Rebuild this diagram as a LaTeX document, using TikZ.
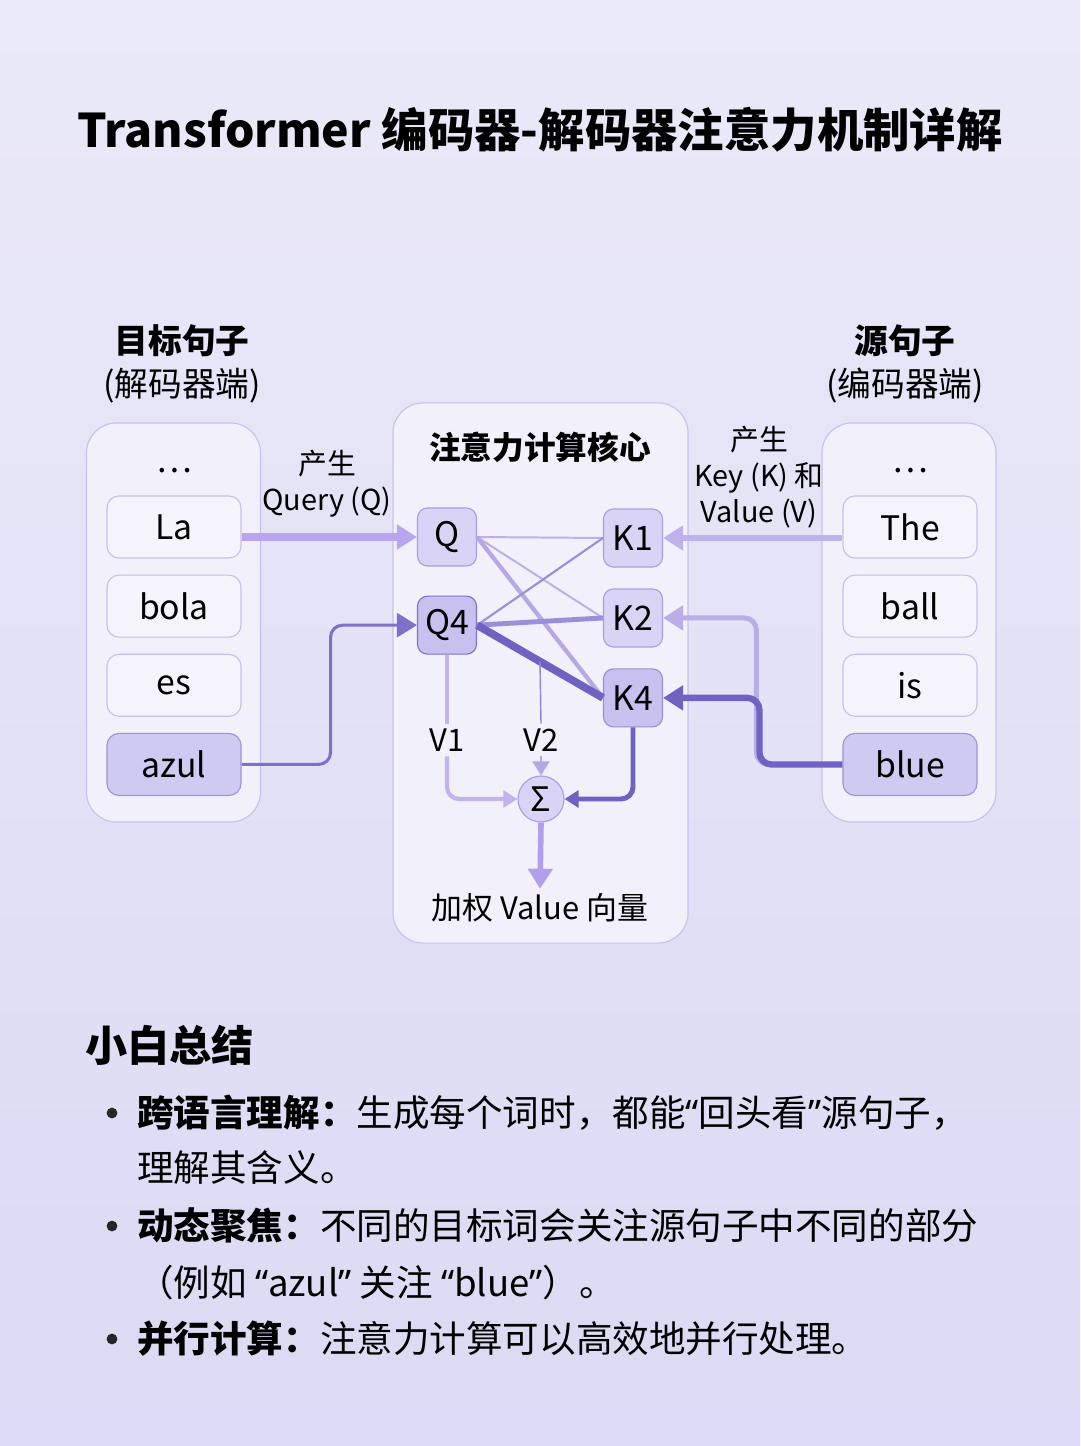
\documentclass[tikz,border=0pt]{standalone}
\usepackage{fontspec}
\setmainfont{Noto Sans CJK SC}
\newfontfamily\quofont{Noto Sans}
\newcommand\lquo{{\quofont “}}
\newcommand\rquo{{\quofont ”}}
\usetikzlibrary{arrows.meta,positioning,calc}
\definecolor{bgtop}{HTML}{EAE9F9}
\definecolor{bgbot}{HTML}{DCDAF4}
\definecolor{panelfill}{HTML}{F1F0FB}
\definecolor{panelline}{HTML}{C7C1EA}
\definecolor{tokfill}{HTML}{F5F4FC}
\definecolor{tokline}{HTML}{C6C0E8}
\definecolor{hifill}{HTML}{CFCAF1}
\definecolor{hiline}{HTML}{9C93D9}
\definecolor{qkfill}{HTML}{D9D3F5}
\definecolor{qkline}{HTML}{A99FE0}
\definecolor{qkhifill}{HTML}{C8C0EF}
\definecolor{qkhiline}{HTML}{7F74C9}
\definecolor{qarrow}{HTML}{B9A5F0}
\definecolor{karrow}{HTML}{BDB2EA}
\definecolor{lightline}{HTML}{BEAEEA}
\definecolor{midline}{HTML}{9A8FDB}
\definecolor{darkline}{HTML}{6E63C3}
\definecolor{vline}{HTML}{C4B2EC}

\begin{document}
\begin{tikzpicture}[x=0.025cm, y=-0.025cm,
  panel/.style={draw=panelline, fill=panelfill, line width=0.8pt, rounded corners=0.75cm, inner sep=0pt},
  tok/.style={draw=tokline, fill=tokfill, line width=0.8pt, rounded corners=0.3cm,
    minimum width=3.35cm, minimum height=1.55cm, inner sep=0pt, font=\fontsize{24}{28}\selectfont},
  tokhi/.style={tok, draw=hiline, fill=hifill},
  qk/.style={draw=qkline, fill=qkfill, line width=0.8pt, rounded corners=0.25cm,
    minimum width=1.475cm, minimum height=1.45cm, inner sep=0pt, font=\fontsize{24}{28}\selectfont},
  qkhi/.style={qk, draw=qkhiline, fill=qkhifill},
  hdr/.style={align=center, font=\fontsize{24}{31}\selectfont},
  lbl/.style={align=center, font=\fontsize{20.5}{25.5}\selectfont},
  arr/.style={-{Triangle[length=0.5cm, width=0.6cm]}, rounded corners=0.3cm},
  sarr/.style={-{Triangle[length=0.35cm, width=0.42cm]}, rounded corners=0.3cm},
  sumtxt/.style={anchor=base west, inner sep=0pt, font=\fontsize{26}{30}\selectfont},
  bul/.style={circle, fill=black!85, inner sep=0pt, minimum size=0.27cm}
]
\useasboundingbox (0,0) rectangle (1080,1446);
\shade[top color=bgtop, bottom color=bgbot] (0,0) rectangle (1080,1446);

% title
\node[font=\bfseries\fontsize{33}{38}\selectfont] (title) at (540,130) {Transformer 编码器-解码器注意力机制详解};

% panels
\node[panel, minimum width=4.35cm, minimum height=9.975cm] (lpanel) at (173.5,622.5) {};
\node[panel, minimum width=4.35cm, minimum height=9.975cm] (rpanel) at (909,622.5) {};
\node[panel, minimum width=7.375cm, minimum height=13.5cm] (cpanel) at (540.5,673) {};

\node[hdr] (lhd) at (182,364) {\textbf{目标句子}\\(解码器端)};
\node[hdr] (rhd) at (905,364) {\textbf{源句子}\\(编码器端)};

% target tokens
\node[tok] (La) at (174,527) {La};
\node[tok, below=0.4cm of La] (bola) {bola};
\node[tok, below=0.4cm of bola] (es) {es};
\node[tokhi, below=0.4cm of es] (azul) {azul};
\node[font=\fontsize{24}{28}\selectfont, above=0.45cm of La] (ldots) {…};

% source tokens
\node[tok] (The) at (910,527) {The};
\node[tok, below=0.4cm of The] (ball) {ball};
\node[tok, below=0.4cm of ball] (is) {is};
\node[tokhi, below=0.4cm of is] (blue) {blue};
\node[font=\fontsize{24}{28}\selectfont, above=0.45cm of The] (rdots) {…};

% core
\node[font=\bfseries\fontsize{22.5}{27}\selectfont] (ctitle) at (540,447) {注意力计算核心};
\node[qk] (Q) at (447,537) {Q};
\node[qkhi, below=0.725cm of Q] (Q4) {Q4};
\node[qk] (K1) at (633,538) {K1};
\node[qk, below=0.52cm of K1] (K2) {K2};
\node[qk, draw=qkhiline!80, fill=qkhifill, below=0.52cm of K2] (K4) {K4};
\node[circle, draw=qkline, fill=qkfill, line width=0.8pt, minimum size=1.15cm, inner sep=0pt,
  font=\fontsize{24}{28}\selectfont] (sig) at (541,799) {Σ};
\node[font=\fontsize{22}{26}\selectfont] (v1) at (447,740) {V1};
\node[font=\fontsize{22}{26}\selectfont] (v2) at (541,740) {V2};
\node[font=\fontsize{22}{26}\selectfont] (out) at (540,908) {加权 Value 向量};

\node[lbl] (genq) at (327,484) {产生\\Query (Q)};
\node[lbl] (genkv) at (759,477) {产生\\Key (K) 和\\Value (V)};

% inputs
\draw[arr, qarrow, line width=5pt] (La.east |- Q.west) -- (Q.west);
\draw[arr, darkline!90, line width=2.2pt] (azul.east) -- ++(89,0) |- (Q4.west);
\draw[arr, karrow, line width=4pt] (The.west |- K1.east) -- (K1.east);
\draw[arr, karrow!95!darkline, line width=3.5pt] (blue.west) -- ++(-86,0) |- (K2.east);
\draw[arr, darkline, line width=4.5pt] (blue.west) -- ++(-83,0) |- (K4.east);

% attention links
\draw[lightline, line width=1.4pt] (Q.east) -- (K1.west);
\draw[lightline, line width=1.4pt] (Q.east) -- (K2.west);
\draw[lightline!90!darkline, line width=3pt] (Q.east) -- (K4.west);
\draw[midline, line width=1.5pt] (Q4.east) -- (K1.west);
\draw[midline, line width=3.5pt] (Q4.east) -- (K2.west);
\draw[darkline, line width=5.5pt] (Q4.east) -- (K4.west);
\coordinate (mid4) at ($(Q4.east)!0.5!(K4.west)$);

% values
\draw[vline, line width=3pt] (Q4.south) -- (v1.north);
\draw[sarr, vline, line width=3pt] (v1.south) |- (sig.west);
\draw[midline!80!darkline, line width=1pt] (mid4) -- (v2.north);
\draw[sarr, lightline!90!darkline, line width=2pt] (v2.south) -- (sig.north);
\draw[sarr, darkline, line width=3.5pt] (K4.south) |- (sig.east);
\draw[arr, qarrow!90!darkline, line width=4pt] (sig.south) -- (out.north);

% summary
\node[font=\bfseries\fontsize{30}{36}\selectfont, anchor=base west, inner sep=0pt] (sumhd) at (85,1061) {小白总结};
\node[sumtxt] (s1a) at (137,1126) {\textbf{跨语言理解：}生成每个词时，都能\lquo 回头看\rquo 源句子，};
\node[sumtxt] (s1b) at (137,1181) {理解其含义。};
\node[sumtxt] (s2a) at (137,1239) {\textbf{动态聚焦：}不同的目标词会关注源句子中不同的部分};
\node[sumtxt] (s2b) at (137,1296) {（例如 \lquo azul\rquo{} 关注 \lquo blue\rquo）。};
\node[sumtxt] (s3a) at (137,1352) {\textbf{并行计算：}注意力计算可以高效地并行处理。};
\foreach \s in {s1a,s2a,s3a}
  \node[bul] at ($(\s.base west)+(-25,-13)$) {};
\end{tikzpicture}
\end{document}
